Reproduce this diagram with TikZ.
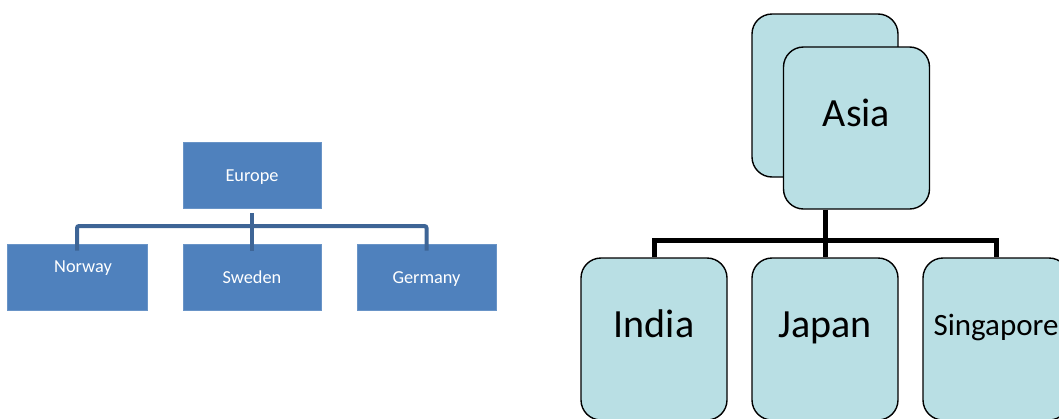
\documentclass[tikz,border=0pt]{standalone}
\usepackage{fontspec}
\setmainfont{Carlito}
\definecolor{euBlue}{HTML}{4F81BD}
\definecolor{euLine}{HTML}{3E6596}
\definecolor{asFill}{HTML}{B9DFE4}
\begin{document}
\begin{tikzpicture}[x=1pt,y=-1pt,
  eubox/.style={rectangle,fill=euBlue,draw=euBlue!85!white,line width=0.6pt,minimum width=138pt,minimum height=66pt,inner sep=0pt},
  eulbl/.style={inner sep=0pt,text height=2pt,text depth=2pt,text=white,font=\fontsize{18.3}{21}\selectfont},
  euconn/.style={draw=euLine,line width=4pt,rounded corners=2pt},
  asbox/.style={rectangle,rounded corners=20pt,fill=asFill,draw=black,line width=1.4pt,minimum width=146pt,minimum height=162pt,inner sep=0pt},
  aslbl/.style={inner sep=0pt,text height=2pt,text depth=2pt,text=black,font=\fontsize{40}{46}\selectfont},
  asconn/.style={draw=black,line width=5pt}]
\useasboundingbox (0,0) rectangle (1059,418);
\clip (0,0) rectangle (1059,418);
% Europe chart
\node[eubox,label={[eulbl,yshift=-6pt]center:Europe}] (eu) at (252,175) {};
\node[eubox,minimum width=140pt,label={[eulbl,xshift=6pt,yshift=5pt]center:Norway}] (no) at (77,277) {};
\node[eubox,label={[eulbl,yshift=-6pt]center:Sweden}] (se) at (252,277) {};
\node[eubox,minimum width=139pt,label={[eulbl,yshift=-6pt]center:Germany}] (de) at (426.5,277) {};
\coordinate (eutop) at ([yshift=-5pt]eu.south);
\coordinate (eubar) at (252,226);
\draw[euconn] (eutop) -- ([yshift=-7pt]se.north);
\draw[euconn] ([yshift=-7pt]no.north) -- (no.north |- eubar) -- (de.north |- eubar) -- ([yshift=-7pt]de.north);
% Asia chart
\node[asbox,minimum height=163pt] (asback) at (825,95.5) {};
\node[asbox,label={[aslbl,yshift=2pt]center:Asia}] (as) at (856.5,128) {};
\node[asbox,label={[aslbl,yshift=2pt]center:India}] (in) at (654,339) {};
\node[asbox,label={[aslbl,yshift=2pt]center:Japan}] (jp) at (825,339) {};
\node[asbox,label={[aslbl,font=\fontsize{31}{36}\selectfont,yshift=4pt]center:Singapore}] (sg) at (996,339) {};
\coordinate (asbar) at (825,240);
\draw[asconn] (asbar |- as.south) -- (jp.north);
\draw[asconn] (in.north) -- (in.north |- asbar) -- (sg.north |- asbar) -- (sg.north);
\end{tikzpicture}
\end{document}
